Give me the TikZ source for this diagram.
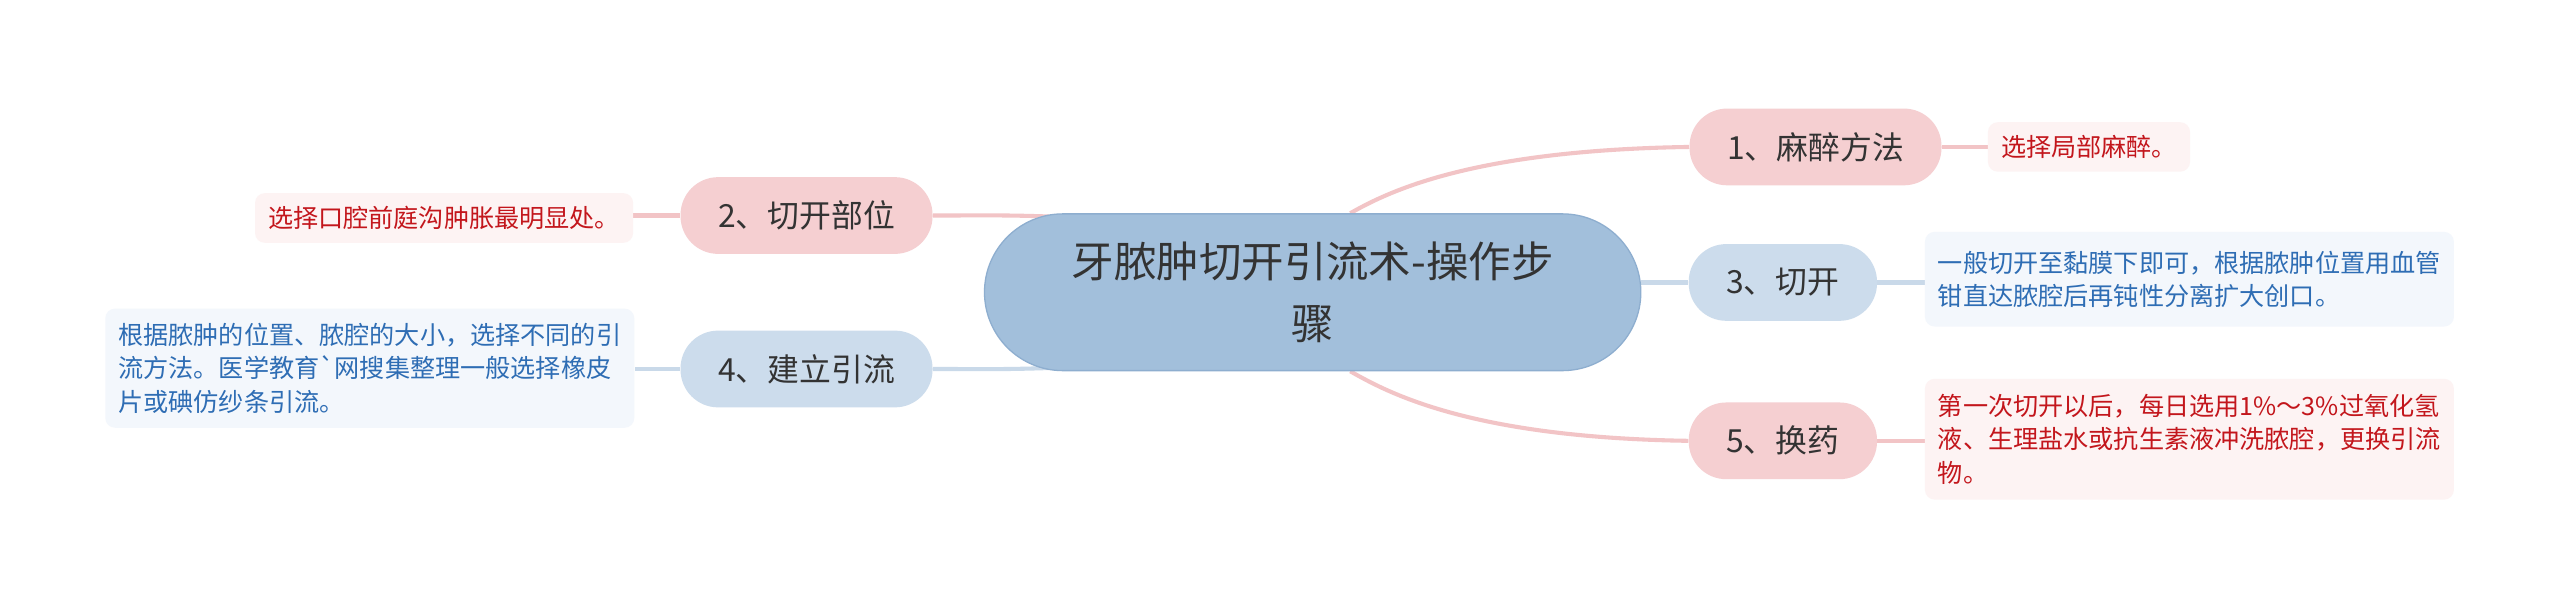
\documentclass[tikz,border=0pt]{standalone}
\usepackage{fontspec}
\setmainfont{Noto Sans CJK SC}[Ligatures=TeXOff]
\usetikzlibrary{backgrounds}
\definecolor{rootfill}{HTML}{A2BFDB}
\definecolor{rootline}{HTML}{8EAECF}
\definecolor{pinkfill}{HTML}{F5CFD1}
\definecolor{bluefill}{HTML}{CCDCEC}
\definecolor{leafpink}{HTML}{FDF3F3}
\definecolor{leafblue}{HTML}{F3F7FC}
\definecolor{leafred}{HTML}{C3161C}
\definecolor{leaftxt}{HTML}{2E6DB4}
\definecolor{pinkline}{HTML}{F2C4C6}
\definecolor{blueline}{HTML}{C9D9E9}
\definecolor{txt}{HTML}{333333}
\begin{document}
\begin{tikzpicture}[x=1pt,y=-1pt,
 root/.style={draw=rootline,line width=.8pt,fill=rootfill,text=txt,rounded corners=48pt,minimum width=402pt,minimum height=96pt,align=center,font=\fontsize{26}{38}\selectfont},
 branch/.style={text=txt,rounded corners=23pt,inner xsep=23pt,minimum height=47pt,font=\fontsize{19.5}{24}\selectfont},
 pinkbranch/.style={branch,fill=pinkfill},
 bluebranch/.style={branch,fill=bluefill},
 leaf/.style={rounded corners=6pt,align=left,inner xsep=8pt,inner ysep=8pt,font=\fontsize{15.4}{20.5}\selectfont},
 pinkleaf/.style={leaf,fill=leafpink,text=leafred},
 blueleaf/.style={leaf,fill=leafblue,text=leaftxt},
 pinkedge/.style={draw=pinkline,line width=2.5pt},
 blueedge/.style={draw=blueline,line width=2.5pt}]
 \useasboundingbox (0,0) rectangle (1568,373);

 \node[root] (c) at (804,179) {牙脓肿切开引流术-操作步\\骤};

 \node[pinkbranch] (n1) at (1112,90) {1、麻醉方法};
 \node[pinkbranch] (n2) at (494,132) {2、切开部位};
 \node[bluebranch] (n3) at (1092,173) {3、切开};
 \node[bluebranch] (n4) at (494,226) {4、建立引流};
 \node[pinkbranch] (n5) at (1092,270) {5、换药};

 \node[pinkleaf] (l1) at (1279.5,90) {选择局部麻醉。};
 \node[pinkleaf] (l2) at (272,133.5) {选择口腔前庭沟肿胀最明显处。};
 \node[blueleaf,minimum height=58pt] (l3) at (1341,171) {一般切开至黏膜下即可，根据脓肿位置用血管\\钳直达脓腔后再钝性分离扩大创口。};
 \node[blueleaf,minimum height=73pt] (l4) at (226.5,225.5) {根据脓肿的位置、脓腔的大小，选择不同的引\\流方法。医学教育`网搜集整理一般选择橡皮\\片或碘仿纱条引流。};
 \node[pinkleaf,minimum height=74pt] (l5) at (1341,269) {第一次切开以后，每日选用1\%～3\%过氧化氢\\液、生理盐水或抗生素液冲洗脓腔，更换引流\\物。};

 \begin{scope}[on background layer]
 \fill[white] (0,0) rectangle (1568,373);
 \draw[pinkedge] ([xshift=23pt]c.north) .. controls +(23,-13) and +(-134,2) .. (n1.west);
 \draw[pinkedge] ([xshift=23pt]c.south) .. controls +(23,13) and +(-134,-2) .. (n5.west);
 \draw[blueedge] (n3.west) -- (n3.west -| c.east);
 \draw[pinkedge] (n2.east) .. controls +(30,0) and +(-30,-1) .. ([xshift=40pt,yshift=-2pt]c.north west);
 \draw[blueedge] (n4.east) .. controls +(30,0) and +(-30,1) .. ([xshift=40pt,yshift=2pt]c.south west);
 \draw[pinkedge] (n1.east) -- (n1.east -| l1.west);
 \draw[pinkedge] (n2.west) -- (n2.west -| l2.east);
 \draw[blueedge] (n3.east) -- (n3.east -| l3.west);
 \draw[blueedge] (n4.west) -- (n4.west -| l4.east);
 \draw[pinkedge] (n5.east) -- (n5.east -| l5.west);
 \end{scope}
\end{tikzpicture}
\end{document}
